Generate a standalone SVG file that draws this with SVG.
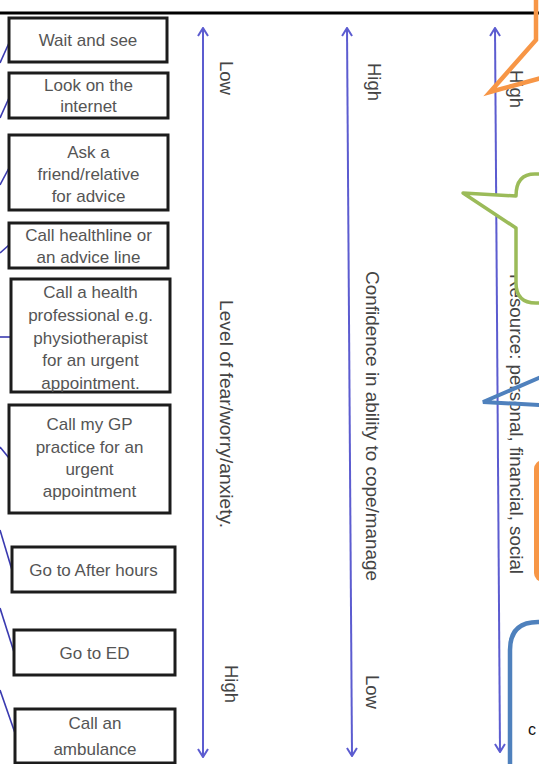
<svg xmlns="http://www.w3.org/2000/svg" width="539" height="764" viewBox="0 0 539 764">
<defs>
<style>
.box{fill:#fff;stroke:#1c1c1c;stroke-width:3}
.bt{font-family:"Liberation Sans",Arial,sans-serif;font-size:17px;fill:#555;text-anchor:middle}
.lab{font-family:"Liberation Sans",Arial,sans-serif;font-size:18.5px;fill:#444;text-anchor:middle}
.con{stroke:#3a3ab0;stroke-width:1.6;fill:none}
.axis{stroke:#5c5cd0;stroke-width:2;fill:none}
</style>
<marker id="ah" viewBox="0 0 10 12" refX="9" refY="6" markerWidth="10" markerHeight="12" markerUnits="userSpaceOnUse" orient="auto-start-reverse">
<path d="M1,1 L9,6 L1,11" fill="none" stroke="#5c5cd0" stroke-width="2"/>
</marker>
</defs>
<rect width="539" height="764" fill="#fff"/>
<line x1="0" y1="13" x2="539" y2="13" stroke="#000" stroke-width="3"/>

<g id="connectors">
<line class="con" x1="0" y1="63" x2="9" y2="43"/>
<line class="con" x1="0" y1="118" x2="9" y2="98"/>
<line class="con" x1="0" y1="185" x2="9" y2="168"/>
<line class="con" x1="0" y1="253" x2="9" y2="245"/>
<line class="con" x1="0" y1="337" x2="11" y2="337"/>
<line class="con" x1="0" y1="447" x2="9" y2="458"/>
<line class="con" x1="0" y1="530" x2="12" y2="570"/>
<line class="con" x1="0" y1="608" x2="14" y2="652"/>
<line class="con" x1="0" y1="690" x2="15" y2="733"/>
</g>

<g id="n1"><rect class="box" x="9" y="18" width="158" height="44"/><text class="bt" x="88" y="46">Wait and see</text></g>
<g id="n2"><rect class="box" x="9" y="73" width="159" height="45"/><text class="bt" x="88.5" y="91">Look on the</text><text class="bt" x="88.5" y="112">internet</text></g>
<g id="n3"><rect class="box" x="9" y="135" width="159" height="75"/><text class="bt" x="88.5" y="158">Ask a</text><text class="bt" x="88.5" y="180">friend/relative</text><text class="bt" x="88.5" y="202">for advice</text></g>
<g id="n4"><rect class="box" x="9" y="223" width="159" height="45"/><text class="bt" x="88.5" y="241">Call healthline or</text><text class="bt" x="88.5" y="263">an advice line</text></g>
<g id="n5"><rect class="box" x="11" y="279" width="159" height="113"/><text class="bt" x="90.5" y="298">Call a health</text><text class="bt" x="90.5" y="321">professional e.g.</text><text class="bt" x="90.5" y="344">physiotherapist</text><text class="bt" x="90.5" y="366">for an urgent</text><text class="bt" x="90.5" y="389">appointment.</text></g>
<g id="n6"><rect class="box" x="9" y="405" width="161" height="108"/><text class="bt" x="89.5" y="430">Call my GP</text><text class="bt" x="89.5" y="453">practice for an</text><text class="bt" x="89.5" y="475">urgent</text><text class="bt" x="89.5" y="497">appointment</text></g>
<g id="n7"><rect class="box" x="12" y="547" width="163" height="45"/><text class="bt" x="93.5" y="576">Go to After hours</text></g>
<g id="n8"><rect class="box" x="14" y="630" width="161" height="45"/><text class="bt" x="94.5" y="659">Go to ED</text></g>
<g id="n9"><rect class="box" x="15" y="709" width="160" height="54"/><text class="bt" x="95" y="729">Call an</text><text class="bt" x="95" y="755">ambulance</text></g>

<g id="axis-fear">
<line class="axis" x1="203" y1="28" x2="203" y2="757" marker-start="url(#ah)" marker-end="url(#ah)"/>
<text class="lab" transform="translate(220,78) rotate(90)">Low</text>
<text class="lab" transform="translate(220,414) rotate(90)" textLength="228" lengthAdjust="spacingAndGlyphs">Level of fear/worry/anxiety.</text>
<text class="lab" transform="translate(225,684) rotate(90)">High</text>
</g>
<g id="axis-confidence">
<line class="axis" x1="347" y1="28" x2="352" y2="756" marker-start="url(#ah)" marker-end="url(#ah)"/>
<text class="lab" transform="translate(368,82) rotate(90)">High</text>
<text class="lab" transform="translate(366,426) rotate(90)" textLength="310" lengthAdjust="spacingAndGlyphs">Confidence in ability to cope/manage</text>
<text class="lab" transform="translate(366,692) rotate(90)">Low</text>
</g>
<g id="axis-resource">
<line class="axis" x1="495" y1="28" x2="500" y2="752" marker-start="url(#ah)" marker-end="url(#ah)"/>
<text class="lab" transform="translate(510,89) rotate(90)">High</text>
<text class="lab" transform="translate(510,424) rotate(90)" textLength="300" lengthAdjust="spacingAndGlyphs">Resource: personal, financial, social</text>
</g>

<g id="callout-orange-top">
<path d="M536,0 L536,40 L490,92 L541,78" fill="none" stroke="#f79646" stroke-width="4.5" stroke-linejoin="miter"/>
</g>
<g id="callout-green">
<path d="M560,174 L535,174 Q516,174 516,196 L463,193 L516,228 L516,283 Q516,303 536,303 L560,303" fill="#fff" stroke="#9bbb59" stroke-width="3.5" stroke-linejoin="round"/>
</g>
<g id="callout-blue">
<path d="M541,377 L483,402 L541,405" fill="none" stroke="#4f81bd" stroke-width="4"/>
</g>
<g id="box-orange">
<rect x="534" y="460" width="30" height="122" rx="9" fill="#f79646"/>
</g>
<g id="box-blue">
<path d="M510,764 L510,650 Q510,622 538,622 L560,622" fill="none" stroke="#4f81bd" stroke-width="4.5"/>
<text x="528" y="735" font-family="Liberation Sans, Arial, sans-serif" font-size="16" fill="#111">c</text>
</g>
</svg>
